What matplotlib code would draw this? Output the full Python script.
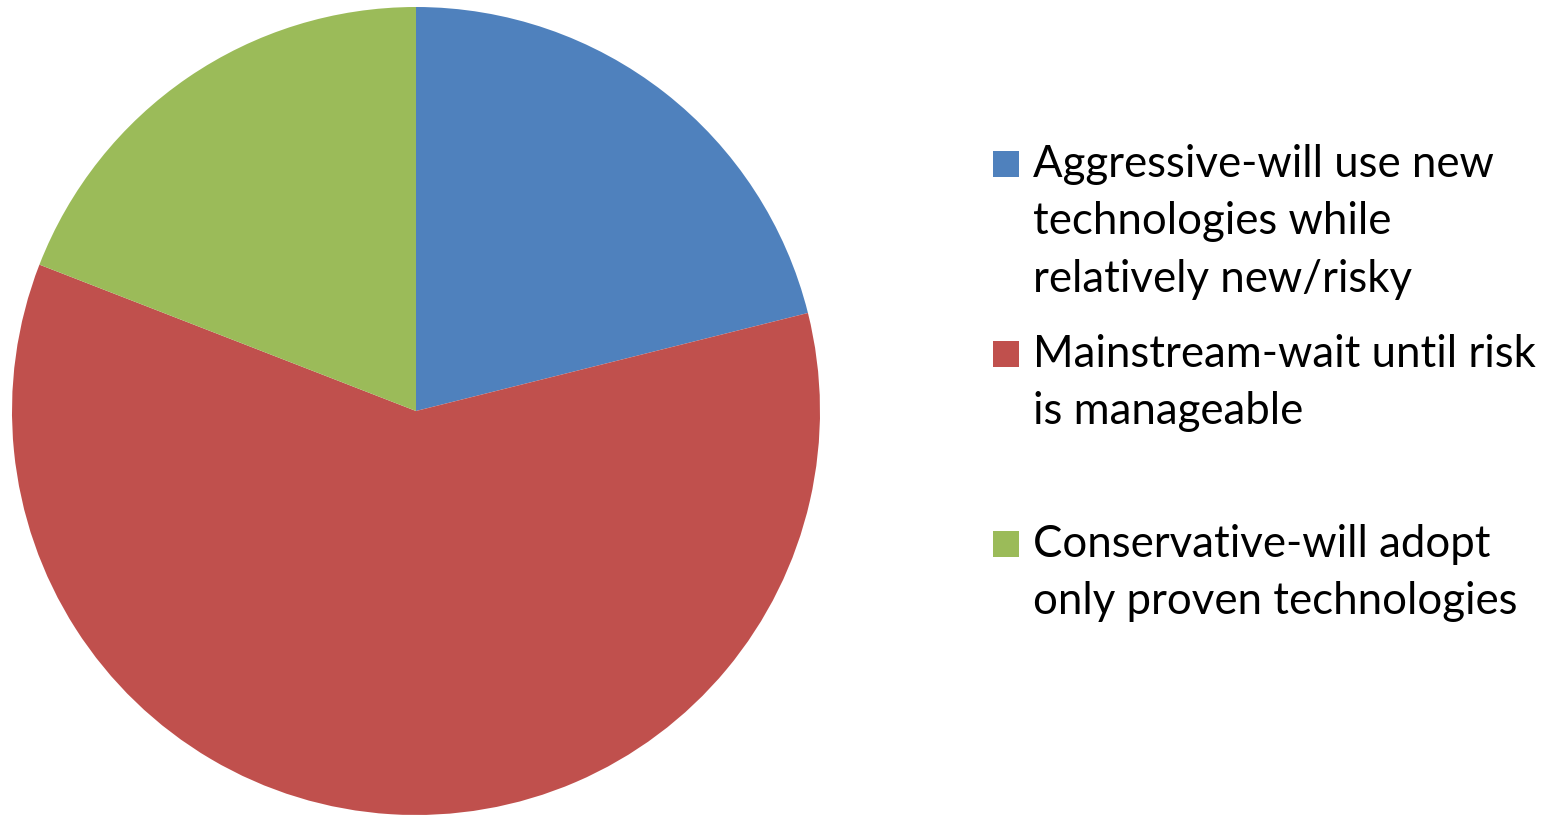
import matplotlib
matplotlib.use("Agg")
import matplotlib.pyplot as plt
from matplotlib.patches import Rectangle

# Share of respondents by technology-adoption stance
labels = [
    "Aggressive-will use new\ntechnologies while\nrelatively new/risky",
    "Mainstream-wait until risk\nis manageable",
    "Conservative-will adopt\nonly proven technologies",
]
shares = [21.1, 59.8, 19.1]
colors = ["#4F81BD", "#C0504D", "#9BBB59"]

W, H = 1564, 816
fig = plt.figure(figsize=(W / 100, H / 100), dpi=100)

# Pie: centre ~(416, 411) px, radius ~404 px
cx, cy, r = 416, 411, 404
ax = fig.add_axes([(cx - r) / W, (H - cy - r) / H, 2 * r / W, 2 * r / H])
ax.pie(shares, colors=colors, startangle=90, counterclock=False, radius=1.0,
       wedgeprops=dict(linewidth=0))
ax.set_xlim(-1, 1)
ax.set_ylim(-1, 1)
ax.set_aspect("equal")
ax.axis("off")

# Legend drawn by hand: equal slots, square beside the first line
first_baseline = 177
slot_step = 190
line_step = 57.5
sq = 26
for i, (lab, col) in enumerate(zip(labels, colors)):
    base = first_baseline + i * slot_step
    sq_c = base - 13
    fig.patches.append(Rectangle((993 / W, (H - sq_c - sq / 2) / H), sq / W, sq / H,
                                 transform=fig.transFigure, color=col, lw=0))
    for j, line in enumerate(lab.split("\n")):
        fig.text(1033 / W, (H - base - j * line_step) / H, line, ha="left",
                 va="baseline", fontsize=31.5, family="Lato", color="black")

fig.savefig("out.png", dpi=100)
